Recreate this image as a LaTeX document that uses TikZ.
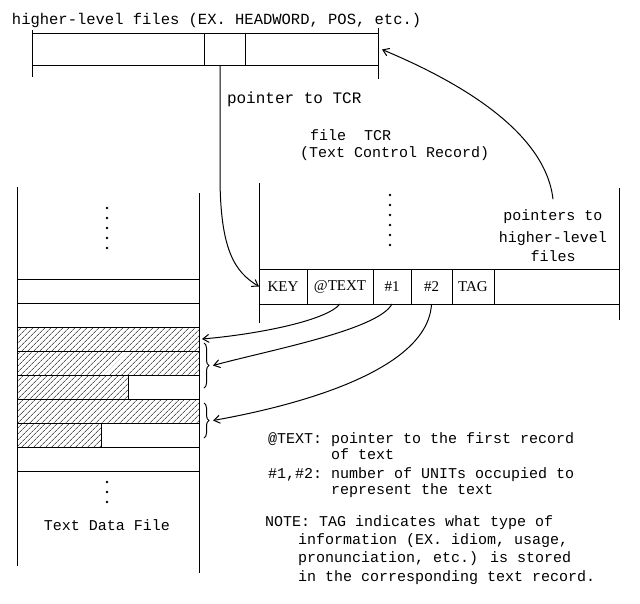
\documentclass[tikz,border=0pt]{standalone}
\usepackage{fontspec}
\setmainfont{Liberation Mono}
\newfontfamily\cellfont{Liberation Serif}
\usetikzlibrary{arrows.meta, positioning, patterns.meta, decorations.pathreplacing}

\tikzset{
  txt/.style={inner sep=0pt, outer sep=0pt, anchor=base west, font=\fontsize{15pt}{18pt}\selectfont},
  ctxt/.style={txt, anchor=base},
  cell/.style={draw, inner sep=0pt, outer sep=0pt, minimum height=35pt, font=\cellfont\fontsize{15pt}{18pt}\selectfont},
  hlcell/.style={draw, inner sep=0pt, outer sep=0pt, minimum height=32pt},
  rowbox/.style={draw, inner sep=0pt, outer sep=0pt, minimum width=182pt, minimum height=24pt},
  hatch/.style={pattern={Lines[angle=45, distance=4pt, line width=0.6pt]}},
  ptr/.style={-{Straight Barb[length=6pt, width=8pt]}},
  rbrace/.style={decorate, decoration={brace, amplitude=5pt}},
}

\begin{document}
\begin{tikzpicture}[x=1pt, y=-1pt, line width=1pt]
  \useasboundingbox (0,0) rectangle (640,603);

  %higher-level files
  \node[txt, font=\fontsize{15.5pt}{18pt}\selectfont] (hltitle) at (12,24) {higher-level files (EX. HEADWORD, POS, etc.)};
  \node[hlcell, minimum width=172pt] (hlleft) at (118,49.5) {};
  \node[hlcell, minimum width=41pt, right=0pt of hlleft] (tcrptr) {};
  \node[hlcell, minimum width=133pt, right=0pt of tcrptr] (hlright) {};
  \draw (32,30) -- (32,77);
  \draw (378,28) -- (378,79);
  \node[txt, font=\fontsize{16pt}{18pt}\selectfont] (ptrlabel) at (227,103) {pointer to TCR};

  %file TCR
  \node[txt] (tcrname) at (310,140) {file\ \ TCR};
  \node[txt] (tcrlong) at (300,157) {(Text Control Record)};
  \draw (259,183) -- (259,323);
  \draw (619,188) -- (619,320);
  \foreach \y in {195,205,215,225,235,245}
    \fill (390,\y) circle (1.3pt);
  \node[cell, minimum width=48pt] (key) at (283,286.5) {KEY};
  \node[cell, minimum width=66pt, right=0pt of key] (atext) {@TEXT};
  \node[cell, minimum width=38pt, right=0pt of atext] (num1) {\#1};
  \node[cell, minimum width=41pt, right=0pt of num1] (num2) {\#2};
  \node[cell, minimum width=42pt, right=0pt of num2] (tag) {TAG};
  \node[cell, minimum width=125pt, right=0pt of tag] (tcrrest) {};
  \node[ctxt] (hlptrA) at (553,220) {pointers to};
  \node[ctxt] (hlptrB) at (553,242) {higher-level};
  \node[ctxt] (hlptrC) at (553,261) {files};

  %Text Data File
  \draw (17,187) -- (17,566);
  \draw (199,193) -- (199,573);
  \foreach \y in {208,218,...,248}
    \fill (107,\y) circle (1.3pt);
  \foreach \i in {1,...,8}
    \node[rowbox] (r\i) at (108,267+24*\i) {};
  \foreach \i/\w in {3/182,4/182,5/111,6/182,7/84}
    \draw[hatch] (r\i.north west) rectangle ++(\w,24);
  \foreach \y in {482,492,502}
    \fill (107,\y) circle (1.3pt);
  \node[ctxt] (tdf) at (107,530) {Text Data File};
  \draw[rbrace] (204,343) -- node[coordinate, xshift=9pt] (unitsA) {} (204,388);
  \draw[rbrace] (204,403) -- node[coordinate, xshift=9pt] (unitsB) {} (204,438);

  %pointers
  \draw[ptr] ([xshift=-4.5pt]tcrptr.south) -- ++(0,110) .. controls +(0,75) and (235,272) .. (key.west);
  \draw[ptr] ([yshift=10pt]hlptrA.north) .. controls (545,130) and (455,80) .. ([xshift=4pt]hlright.east);
  \draw[ptr] (atext.south) .. controls (325,322) and (250,335) .. ([xshift=3pt]r3.east);
  \draw[ptr] (num1.south) .. controls (378,330) and (270,350) .. (unitsA);
  \draw[ptr] (num2.south) .. controls (428,370) and (300,405) .. (unitsB);

  %legend
  \node[txt] (atxtlbl) at (268,443) {@TEXT:};
  \node[txt] (atxt1) at (331,443) {pointer to the first record};
  \node[txt] (atxt2) at (331,459) {of text};
  \node[txt] (numlbl) at (268,478) {\#1,\#2:};
  \node[txt] (num1desc) at (331,478) {number of UNITs occupied to};
  \node[txt] (num2desc) at (331,494) {represent the text};
  \node[txt] (note1) at (265,526) {NOTE: TAG indicates what type of};
  \node[txt] (note2) at (298,544) {information (EX. idiom, usage,};
  \node[txt] (note3) at (298,562) {pronunciation, etc.) is stored};
  \node[txt] (note4) at (298,581) {in the corresponding text record.};
\end{tikzpicture}
\end{document}
